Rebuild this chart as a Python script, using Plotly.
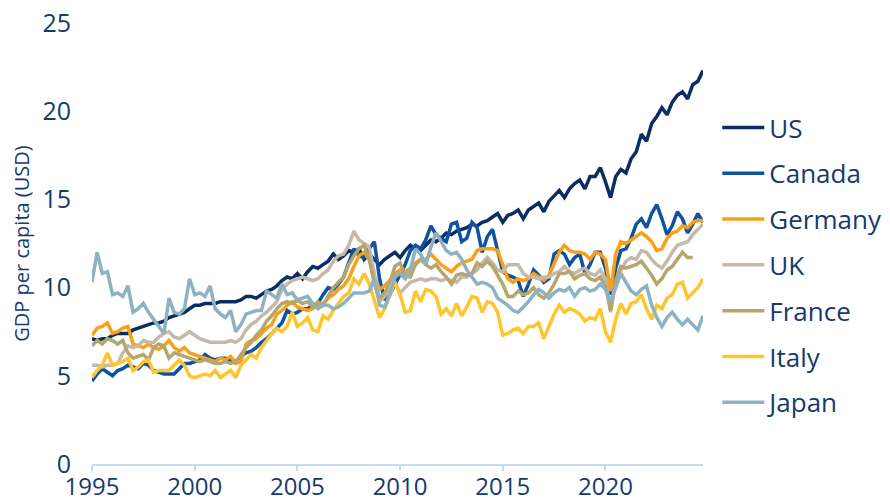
import pandas as pd
import plotly.graph_objects as go

quarters = pd.period_range("1995Q1", "2024Q4", freq="Q")
years = [q.year + (q.quarter - 1) / 4 for q in quarters]

us = [7.1, 7.0, 7.1, 7.1, 7.3, 7.4, 7.4, 7.4, 7.6, 7.7, 7.8, 7.9,
      8.0, 8.0, 8.1, 8.3, 8.4, 8.5, 8.6, 8.8, 9.0, 9.0, 9.1, 9.1,
      9.1, 9.2, 9.2, 9.2, 9.2, 9.3, 9.5, 9.5, 9.4, 9.6, 9.8, 9.9,
      10.1, 10.4, 10.6, 10.5, 10.8, 10.5, 10.9, 11.2, 11.1, 11.3, 11.5, 11.9,
      11.6, 11.8, 12.1, 12.0, 12.2, 11.6, 11.9, 11.6, 11.3, 11.6, 11.8, 12.0,
      11.7, 12.1, 12.4, 12.2, 12.1, 12.4, 12.7, 12.6, 12.8, 13.1, 13.0, 13.2,
      13.3, 13.4, 13.6, 13.5, 13.7, 13.8, 14.0, 14.2, 13.7, 14.1, 14.2, 14.4,
      13.9, 14.4, 14.6, 14.8, 14.3, 14.9, 15.2, 15.5, 15.1, 15.6, 15.9, 16.1,
      15.6, 16.3, 16.3, 16.8, 16.0, 15.1, 16.3, 16.7, 16.5, 17.3, 17.7, 18.7,
      18.3, 19.3, 19.7, 20.2, 19.8, 20.5, 20.9, 21.1, 20.7, 21.5, 21.7, 22.3]

canada = [4.7, 5.1, 5.4, 5.2, 5.0, 5.3, 5.4, 5.6, 5.5, 5.4, 5.7, 5.6,
          5.3, 5.2, 5.1, 5.1, 5.1, 5.4, 5.7, 5.7, 5.8, 5.9, 6.2, 6.0,
          5.9, 6.0, 6.0, 5.9, 5.8, 6.1, 6.3, 6.4, 6.6, 6.9, 7.1, 7.4,
          7.7, 8.0, 8.7, 8.5, 8.6, 8.8, 8.8, 9.0, 9.1, 9.6, 10.0, 9.9,
          10.2, 10.6, 11.4, 12.2, 11.8, 11.7, 12.2, 12.6, 10.5, 9.3, 9.6, 10.2,
          10.7, 11.3, 12.1, 12.4, 12.2, 12.7, 13.5, 13.0, 12.8, 12.6, 13.6, 13.7,
          12.6, 12.8, 13.7, 13.4, 12.0, 12.9, 13.3, 12.0, 10.9, 10.7, 10.6, 10.4,
          9.5, 10.2, 11.0, 10.7, 10.3, 10.5, 11.9, 12.1, 11.9, 11.3, 11.7, 11.9,
          10.8, 11.3, 12.0, 12.0, 11.1, 9.6, 11.1, 12.1, 12.2, 12.8, 13.6, 13.9,
          13.4, 14.2, 14.7, 13.9, 13.0, 13.5, 14.3, 13.9, 13.1, 13.6, 14.2, 13.7]

germany = [7.3, 7.7, 7.8, 8.0, 7.4, 7.5, 7.7, 7.8, 6.8, 6.7, 6.6, 6.8,
           6.6, 6.5, 6.7, 7.0, 6.6, 6.4, 6.6, 6.3, 6.2, 6.1, 6.0, 5.9,
           5.8, 6.0, 5.9, 6.1, 5.7, 5.8, 6.8, 7.0, 7.1, 7.4, 7.7, 7.9,
           8.5, 8.7, 9.0, 9.2, 8.9, 8.8, 8.7, 8.8, 9.0, 9.1, 9.4, 9.6,
           9.9, 10.1, 10.5, 11.2, 11.8, 12.0, 11.6, 10.6, 9.9, 10.1, 10.4, 10.8,
           11.0, 10.9, 11.1, 11.4, 11.6, 11.6, 11.9, 11.6, 11.3, 11.1, 10.9, 11.2,
           11.4, 11.5, 11.6, 12.1, 12.2, 12.2, 12.2, 12.1, 11.3, 10.5, 10.3, 10.5,
           10.4, 10.5, 10.8, 10.6, 10.4, 10.7, 11.3, 12.0, 12.4, 12.1, 12.0, 12.0,
           11.9, 11.6, 12.0, 11.9, 11.6, 9.8, 11.9, 12.6, 12.5, 12.7, 12.9, 13.1,
           12.9, 12.6, 12.1, 12.2, 12.8, 13.1, 13.2, 13.5, 13.4, 13.7, 13.8, 13.8]

uk = [5.6, 5.6, 5.5, 5.6, 5.6, 5.7, 6.3, 6.7, 6.6, 6.7, 7.0, 6.9,
      6.9, 7.2, 7.4, 7.5, 7.2, 7.1, 7.3, 7.5, 7.3, 7.1, 7.0, 6.9,
      6.9, 6.9, 6.9, 7.0, 6.9, 7.1, 7.6, 7.9, 8.1, 8.4, 8.6, 8.9,
      9.2, 9.9, 10.2, 10.4, 10.5, 10.6, 10.5, 10.4, 10.5, 10.8, 11.0, 11.5,
      11.8, 11.9, 12.4, 13.2, 12.7, 12.5, 12.3, 10.8, 9.2, 9.5, 9.9, 10.3,
      9.7, 10.0, 10.3, 10.4, 10.5, 10.4, 10.5, 10.5, 10.4, 10.5, 10.4, 10.3,
      10.6, 10.6, 10.8, 11.0, 11.4, 11.7, 11.4, 11.0, 10.9, 11.3, 11.3, 11.3,
      10.8, 10.6, 10.6, 10.5, 10.6, 10.6, 10.8, 10.9, 11.2, 10.9, 10.8, 11.0,
      11.1, 10.8, 10.7, 11.0, 10.5, 8.6, 10.4, 11.0, 11.5, 11.7, 11.6, 12.1,
      12.0, 11.6, 11.3, 11.1, 11.5, 12.0, 12.4, 12.5, 12.6, 13.0, 13.3, 13.6]

france = [6.7, 7.0, 6.8, 7.1, 7.0, 6.8, 7.0, 6.3, 6.0, 6.1, 6.2, 5.9,
          6.6, 6.8, 6.7, 6.0, 6.3, 6.2, 6.1, 6.0, 5.9, 5.8, 5.9, 5.8,
          5.7, 5.7, 5.8, 5.7, 5.8, 6.2, 6.6, 6.9, 7.3, 7.6, 8.1, 8.4,
          8.8, 9.1, 9.2, 9.1, 9.3, 9.1, 9.2, 8.9, 9.2, 9.0, 9.5, 10.0,
          10.3, 10.6, 11.3, 11.8, 12.2, 12.4, 11.6, 10.2, 9.4, 9.7, 10.3, 11.2,
          11.4, 10.7, 10.6, 11.3, 11.6, 11.3, 11.1, 11.3, 10.9, 10.6, 10.2, 10.7,
          10.8, 10.7, 10.8, 11.4, 11.2, 11.5, 11.2, 10.7, 10.2, 9.5, 9.5, 9.8,
          9.6, 9.7, 10.0, 9.6, 9.4, 9.7, 10.2, 10.8, 10.8, 10.9, 10.5, 10.7,
          10.8, 10.5, 10.4, 10.6, 10.1, 8.7, 10.4, 11.2, 11.1, 11.2, 11.3, 11.5,
          11.1, 10.7, 10.2, 10.5, 11.0, 11.2, 11.6, 12.0, 11.7, 11.7]

italy = [4.9, 5.3, 5.6, 6.3, 5.6, 5.7, 5.8, 6.0, 5.3, 5.5, 5.8, 5.9,
         5.2, 5.3, 5.3, 5.3, 5.6, 5.9, 5.6, 5.0, 4.9, 5.0, 5.1, 5.0,
         5.3, 4.9, 5.1, 5.3, 4.9, 5.6, 5.9, 6.2, 6.0, 6.6, 7.0, 7.4,
         7.7, 7.5, 7.8, 8.6, 7.8, 8.0, 8.3, 7.6, 7.5, 8.4, 8.2, 8.7,
         9.1, 9.5, 9.7, 10.5, 10.2, 10.8, 10.2, 9.2, 8.3, 8.8, 9.6, 10.3,
         9.6, 8.6, 8.7, 9.8, 9.2, 9.9, 9.8, 9.5, 8.5, 8.8, 8.4, 9.1,
         8.4, 8.9, 9.5, 9.4, 8.6, 9.2, 9.1, 8.6, 7.3, 7.4, 7.6, 7.7,
         7.4, 7.8, 7.8, 8.0, 7.1, 7.8, 8.5, 9.0, 8.6, 8.8, 8.7, 8.5,
         8.1, 8.3, 8.2, 8.8, 7.5, 6.9, 8.2, 9.1, 8.5, 9.1, 9.2, 9.6,
         8.8, 8.2, 9.0, 8.8, 9.4, 9.6, 10.2, 10.3, 9.4, 9.7, 10.0, 10.5]

japan = [10.3, 12.0, 10.8, 10.9, 9.6, 9.7, 9.5, 10.1, 8.6, 8.8, 9.1, 8.6,
         8.2, 7.8, 7.4, 9.4, 8.6, 8.5, 8.8, 10.5, 9.6, 9.7, 9.5, 10.1,
         8.8, 8.5, 8.3, 8.7, 7.5, 7.9, 8.5, 8.6, 8.7, 8.7, 9.8, 9.6,
         9.4, 10.2, 9.6, 9.7, 9.3, 9.4, 9.5, 9.1, 8.8, 9.0, 9.0, 8.8,
         8.9, 9.1, 9.4, 9.7, 9.7, 9.7, 9.8, 10.5, 9.0, 8.9, 9.6, 10.6,
         10.8, 10.5, 11.0, 12.2, 11.9, 11.3, 12.3, 13.1, 12.6, 12.1, 11.9, 12.0,
         11.6, 11.0, 10.6, 10.2, 10.3, 10.2, 10.0, 9.4, 9.2, 9.0, 8.7, 8.6,
         8.9, 9.2, 9.6, 9.9, 9.7, 9.4, 9.7, 9.9, 9.8, 10.0, 9.5, 9.9,
         10.0, 9.8, 9.9, 10.2, 9.9, 9.2, 10.0, 10.8, 10.3, 9.8, 9.6, 9.9,
         10.1, 9.0, 8.3, 7.8, 8.3, 8.6, 8.2, 7.9, 8.2, 7.9, 7.6, 8.4]

series = [
    ("US", us, "#0b2d62"),
    ("Canada", canada, "#0f52a2"),
    ("Germany", germany, "#f9a01b"),
    ("UK", uk, "#c4b9aa"),
    ("France", france, "#b5a66e"),
    ("Italy", italy, "#fdc62e"),
    ("Japan", japan, "#8db2c2"),
]

x_ticks = [1995, 2000, 2005, 2010, 2015, 2020]
y_ticks = [0, 5, 10, 15, 20, 25]

TEXT = "#153a6e"
FONT = "Open Sans"

fig = go.Figure()
for name, vals, color in series:
    fig.add_trace(go.Scatter(
        x=years[:len(vals)], y=vals, name=name, mode="lines",
        line=dict(color=color, width=3.5), legendgroup=name,
    ))

# page body adds an 8px offset, so the figure is sized to fill the window exactly
fig.update_layout(
    width=882, height=490,
    margin=dict(l=84, r=187, t=15, b=34, autoexpand=False),
    paper_bgcolor="white", plot_bgcolor="white",
    font=dict(family=FONT, color=TEXT, size=24),
    showlegend=True,
    legend=dict(
        xref="container", yref="container",
        x=0.8042, y=0.804, xanchor="left", yanchor="top",
        font=dict(family=FONT, size=26, color=TEXT),
        tracegroupgap=9, itemwidth=42, maxheight=480,
        bgcolor="rgba(0,0,0,0)",
    ),
)
fig.update_xaxes(
    range=[1995, 2024.75], tickvals=x_ticks, ticktext=[str(v) for v in x_ticks],
    showgrid=False, zeroline=False, showline=True, linecolor="#c6dbf2", linewidth=2,
    ticks="outside", ticklen=5, tickwidth=2, tickcolor="#c6dbf2",
    ticklabelstandoff=-5, automargin=False, ticklabeloverflow="allow",
    tickfont=dict(family=FONT, size=24, color=TEXT),
)
fig.update_yaxes(
    range=[0, 25], tickvals=y_ticks, ticktext=[str(v) for v in y_ticks],
    showgrid=False, zeroline=False, showline=False,
    ticks="", ticklabelstandoff=20, automargin=False, ticklabeloverflow="allow",
    tickfont=dict(family=FONT, size=25, color=TEXT),
    title=dict(text="GDP per capita (USD)", font=dict(family=FONT, size=20, color=TEXT), standoff=12),
)

fig.write_html("out.html")
